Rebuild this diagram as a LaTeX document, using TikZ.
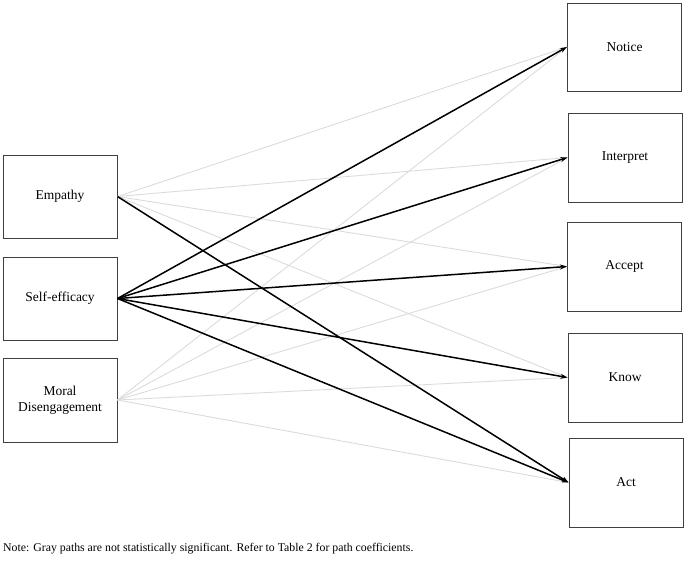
\documentclass[tikz,border=0pt]{standalone}
\usepackage{fontspec}
\setmainfont{Liberation Serif}
\usetikzlibrary{arrows.meta}
\begin{document}
\begin{tikzpicture}[x=1pt, y=-1pt,
    varbox/.style={draw=black!75, line width=1pt, minimum width=114pt, minimum height=86pt, align=center, font=\fontsize{13.5}{16}\selectfont},
    sigpath/.style={line width=1.5pt, -{Stealth[length=7pt, width=5pt]}},
    nspath/.style={line width=0.9pt, black!14}]
    \useasboundingbox (0,0) rectangle (685,565);
    % Draw the predictor boxes on the left
    \node[varbox, minimum height=83pt] (empathy) at (60,196.5) {Empathy};
    \node[varbox, minimum height=83pt] (selfeff) at (60,298.5) {Self-efficacy};
    \node[varbox, minimum height=84pt] (moral) at (60,400) {Moral\\Disengagement};
    % Draw the outcome boxes on the right
    \node[varbox, minimum height=88pt] (notice) at (624.5,47) {Notice};
    \node[varbox, minimum height=89pt] (interpret) at (625,157.5) {Interpret};
    \node[varbox, minimum height=89pt] (accept) at (624.5,266.5) {Accept};
    \node[varbox, minimum height=89pt] (know) at (625,377.5) {Know};
    \node[varbox, minimum height=89pt] (act) at (626,482.5) {Act};

    % Draw the gray (not significant) paths
    \foreach \t in {notice, interpret, accept, know} {
    \draw[nspath] (empathy.east) -- (\t.west);
    }
    \foreach \t in {notice, interpret, accept, know, act} {
    \draw[nspath] (moral.east) -- (\t.west);
    }
    % Draw the black (significant) paths
    \foreach \t in {notice, interpret, accept, know, act} {
    \draw[sigpath] (selfeff.east) -- (\t.west);
    }
    \draw[sigpath] (empathy.east) -- (act.west);

    % Note under the diagram
    \node[anchor=west, inner sep=0pt, font=\fontsize{11.8}{14}\selectfont] (note) at (3,549)
    {Note: Gray paths are not statistically significant. Refer to Table 2 for path coefficients.};
\end{tikzpicture}
\end{document}
